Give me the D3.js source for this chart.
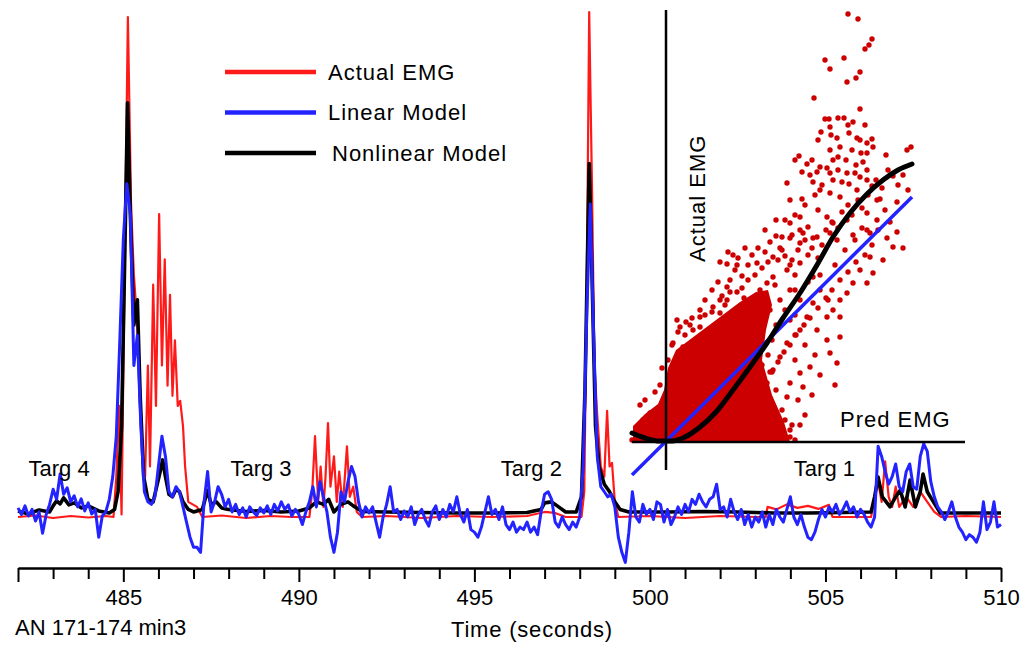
<!DOCTYPE html>
<html>
<head>
<meta charset="utf-8">
<script src="https://cdn.jsdelivr.net/npm/d3@7"></script>
<style>
  body { margin: 0; background: #fff; }
  text { font-family: "Liberation Sans", Arial, sans-serif; font-size: 22px; fill: #000; }
</style>
</head>
<body>
<script>
// ---- time series data ----
// linear model sampled every 0.1 s from 482 s
var linearStart = 482, linearStep = 0.1;
var linearModel = [
  1.8, 0.5, 2.2, 0.2, 1.5, -0.8, 1.0, -3.2, 0.4, 2.5,
  5.5, 3.5, 8.5, 4.5, 5.8, 3.0, 4.2, 2.0, 3.6, 1.2,
  2.8, 0.6, 1.5, -4.0, 0.2, 1.0, 3.5, 8.0, 16, 35,
  55, 66, 60, 30, 36, 18, 5, 3, 2.5, 4,
  10, 16, 12, 5, 4, 6, 5, 2, -1, -4,
  -6, -6, -7, 3, 9, 1, 3, 6, 4.5, 2,
  3.5, 1, 2.5, 0.5, 1.8, 0, 2, 1, 0.3, 1.8,
  0.8, 2.2, 0.5, 2.5, 1.2, 3, 1.5, 2.4, 0.2, 1.5,
  0.5, -1.5, 1, 3, 6, 2, 7, 4, 1, -4,
  -7, -3, 5, 3, 7, 10, 8, 3, 0, 2,
  0.8, 2, -1, -4, 0, 2.5, 6, 1, 1.5, -0.5,
  1.2, 0, 2, -1.5, 0.5, 1.5, -0.5, -1.8, 1, 2.2,
  -0.5, 1.5, 0, 2.5, 1, 4, 0.5, -1, 1.5, -2.5,
  -3, -4, -2, 1, 4, 0.5, 1.5, -0.5, 2, -1.5,
  -2.5, -1, -3, -2, -2.5, -1, -3, -2, -3.5, 1,
  4.5, 5, 3.5, -1, -2, 0, -1.5, -2.5, -1, -2,
  0, 10, 40, 62, 35, 12, 6, 5, 4, 4.5,
  2, -4, -7, -9, -3, 5, 0, -1, 2.5, 0.5,
  1.5, -0.5, 3, 2.5, -1, 1.5, -1.5, 0, 2, 0.5,
  2.5, 1, 3.5, 2.5, 4.5, 3, 2, 3.5, 4, 6.5,
  1.5, 2, 0, 3.5, 1, -0.5, 1.5, -1.5, 0.5, -2,
  0, -1, 1, -2, 0.5, -1.5, 1.5, 0, -1, 1.5,
  4, 0, -1.5, 0.5, -2, -4, -4.5, -3, -0.5, 1.5,
  0, 2, 1, 2.5, 0.5, 1.5, 3, 1, 2, 0,
  1.5, 0.5, -1, -2, 0, 14, 12, 9, 6.5, 8,
  10.5, 6, 5, 9, 10.5, 6, 5.5, 12, 14.5, 13,
  7, 4, 2, 1, -0.5, 1, 3, 0, -2, -3,
  -4.5, -3.5, -4, -5, -3, 3, -2.5, -1, 3, -2,
  -1.5
];

// [time, value]
var actualEmg = [
  [482.0,0],[482.5,0.3],[483.0,-0.2],[483.5,0.2],[484.0,-0.1],[484.5,0.2],[484.72,0],[484.8,8],[484.88,22],[484.95,0.5],
  [485.03,45],[485.13,99],[485.22,62],[485.3,48],[485.38,40],[485.45,30],[485.55,12],[485.62,8],[485.7,30],[485.76,10],
  [485.85,46],[485.93,22],[486.02,60],[486.1,30],[486.18,51],[486.26,26],[486.33,44],[486.4,24],[486.47,35],[486.55,22],
  [486.62,23],[486.7,18],[486.76,10],[486.85,3],[487.1,2],[487.25,0],[487.8,0.3],[488.5,-0.2],[489.2,0.2],[489.8,0],
  [490.3,0],[490.38,5],[490.46,16],[490.55,3],[490.62,10],[490.7,2],[490.76,8],[490.83,18.6],[490.9,6],[491.0,12],
  [491.08,3],[491.15,9],[491.25,2],[491.37,14],[491.45,4],[491.55,6],[491.65,1],[491.8,0],[492.5,0.2],[493.5,-0.2],
  [494.5,0.2],[495.5,0],[496.5,0.2],[497.0,1],[497.3,0.8],[497.6,0],[498.05,0],[498.13,5],[498.2,45],[498.27,100],
  [498.35,65],[498.42,30],[498.5,20],[498.6,10],[498.7,8],[498.78,21],[498.85,10],[498.92,10.7],[499.0,3],[499.1,0],
  [500.0,0.2],[501.0,-0.2],[502.0,0.2],[503.0,0],[503.3,0],[503.35,2],[503.6,1.5],[503.9,2.5],[504.2,1.8],[504.5,2.2],
  [504.8,1.6],[505.1,2.4],[505.2,0],[506.3,0],[506.4,4],[506.5,7],[506.6,3],[506.7,11],[506.8,4],[506.9,2],
  [507.0,6],[507.1,2],[507.3,4],[507.5,2],[507.7,5],[507.9,3],[508.1,1],[508.3,0],[509.0,0.2],[510.0,0]
];

var nonlinearModel = [
  [482.0,1.2],[482.3,0.6],[482.6,1.4],[482.9,1.0],[483.0,2.2],[483.1,3.2],[483.2,2.6],[483.3,3.8],[483.45,2.4],[483.6,2.8],
  [483.8,1.8],[484.0,2.2],[484.3,1.2],[484.6,0.8],[484.75,1.5],[484.85,5],[484.95,18],[485.05,55],[485.12,82],[485.2,60],
  [485.3,38],[485.4,43],[485.48,24],[485.58,8],[485.7,3.5],[485.85,3],[485.95,6],[486.05,9],[486.12,11.3],[486.2,8],
  [486.3,4.5],[486.4,4],[486.5,5.5],[486.6,5],[486.7,3],[486.85,1.5],[487.0,1],[487.25,1.5],[487.4,5.3],[487.5,2.5],
  [487.65,3],[487.8,1.8],[488.0,1.5],[488.5,1.1],[489.0,1.3],[489.5,1.0],[490.0,1.2],[490.3,1.8],[490.5,3],[490.7,2.5],
  [490.85,3.5],[491.0,1],[491.2,2.5],[491.4,3],[491.55,2.2],[491.8,1.1],[492.5,1.0],[493.5,0.9],[494.5,0.8],[495.5,0.8],
  [496.5,0.9],[496.9,1.5],[497.0,2.8],[497.2,3],[497.4,2],[497.6,1],[497.9,1],[498.05,4],[498.15,25],[498.27,70],
  [498.35,48],[498.45,18],[498.55,10],[498.7,6.5],[498.85,5],[499.0,3],[499.15,1.5],[499.4,1],[500.5,1],[501.5,1.1],
  [502.5,1],[503.5,0.8],[504.5,0.8],[505.5,0.9],[506.3,1],[506.4,4],[506.5,7.9],[506.62,4],[506.84,2],[507.0,4],
  [507.13,5.3],[507.27,2],[507.41,7.3],[507.56,2],[507.7,5],[507.78,8.5],[507.9,5],[508.04,3.4],[508.27,0.8],[510.0,0.8]
];

var timeTicks = d3.range(482, 511);
var labelledTicks = [485, 490, 495, 500, 505, 510];
var legendNames = ["Actual EMG", "Linear Model", "Nonlinear Model"];
var legendColors = ["#ff1a1a", "#2323ff", "#000000"];
var targNames = ["Targ 4", "Targ 3", "Targ 2", "Targ 1"];
var targTimes = [482.3, 488.05, 495.75, 504.1];

// ---- inset scatter: predicted vs actual EMG ----
var scatterPoints = [
  [72.8,171.2],[76.8,169.2],[82.4,161.2],[81.2,158.8],[79.6,157.2],[63.6,152.8],[71.2,153.6],[65.6,149.2],[77.6,148],[76,145.6],
  [72.4,144],[59.2,137.6],[77.6,133.2],[63.6,129.2],[65.2,129.2],[68.8,129.6],[71.2,129.6],[74.8,128],[72.8,126.8],[79.6,126.8],
  [65.6,126],[62,124],[66,122.8],[73.2,123.6],[82.4,121.2],[82.8,118],[76.4,121.6],[68.4,121.6],[69.6,118],[80.4,119.6],
  [80.4,115.6],[78,115.6],[88,114.8],[96.4,116.8],[98,118],[53.2,114.4],[51.6,112.8],[58.4,112.8],[56.4,111.2],[61.6,110],
  [64.4,109.6],[66.8,112.8],[68.8,114],[76,110.8],[78.8,112],[80.4,108.8],[54.4,108],[60.4,108],[65.6,107.6],[72.4,107.6],
  [75.6,107.6],[48.4,103.6],[58.8,104],[66.8,104.8],[70.4,104],[73.2,103.2],[77.6,106],[80.4,104.8],[94.8,106.8],[54.4,97.2],
  [61.6,100.8],[65.6,99.6],[69.6,98],[76.4,100.8],[84.4,96.8],[85.6,97.2],[92.4,96],[96.8,100.8],[47.6,88.8],[49.6,87.6],
  [53.6,90],[56.8,86],[60.8,92.8],[64.4,90],[66.8,87.6],[72.4,88.8],[80.4,91.6],[84.4,88.8],[46.4,82],[50.4,82.8],
  [54.8,83.6],[58.8,81.6],[65.6,83.6],[68.4,80.8],[74.8,82.8],[80.4,84.8],[92.4,84],[88.4,81.6],[90.8,78],[94.8,77.6],
  [26.8,74.8],[24.4,71.2],[28.4,70.8],[36.4,71.6],[42.8,74],[46.4,76.8],[53.6,79.6],[60.4,82],[81.6,83.6],[86.8,72.8],
  [81.6,74],[77.6,68.8],[82.8,67.6],[80.4,63.6],[74.8,63.6],[72.4,59.6],[69.6,56.8],[66.8,52.8],[64.4,50],[69.6,50],
  [69.6,42],[65.6,35.6],[68.4,31.6],[57.6,30],[53.6,27.6],[49.6,23.6],[54.8,22],[48.4,18],[49.6,4.8],[45.6,3.6],
  [42.8,2],[37.6,0.8],[24.4,62],[28.4,60],[24.4,56.8],[18.8,54],[21.6,51.6],[29.6,54],[33.6,55.6],[37.6,60.8],
  [40.4,63.6],[42.8,66],[48.4,68.8],[53.6,71.6],[58.8,66],[61.6,60.8],[58.8,55.6],[56.4,50],[53.6,44.8],[60.4,44.8],
  [64.4,40.8],[48.4,39.6],[45.6,34],[42.8,28.8],[40.4,23.6],[37.6,18],[34.8,12.8],[32.4,8.8],[13.6,50],[10.8,44.8],
  [5.6,46],[4.4,48.8],[2.8,39.6],[6.8,38],[-6.4,11.6],[-9.2,8.8],[-10.4,14.8],[-8.4,16.8],[-4.4,20],[-2.4,22.8],
  [-1.6,29.6],[0.8,32.8],[2.4,38.8],[7.6,42.8],[9.6,46.8],[13.6,46],[15.6,50.8],[18.4,52],[21.6,56.8],[23.6,54.8],
  [25.6,60],[30.4,61.6],[32.8,64.8],[35.6,66.8],[38.4,69.6],[40.8,72],[44.8,72.8],[49.6,70.8],[51.6,66.8],[49.6,60.8],
  [45.6,56.8],[47.6,52.8],[44,46.8],[49.6,48.8],[51.6,42.8],[42.4,40.8],[40.8,34.8],[38.4,30.8],[41.6,28],[37.6,24.8],
  [44,20.8],[39.6,18.8],[41.6,14.8],[46.4,12.8],[47.6,8.8],[50.4,6.8],[49.6,2],[51.6,0.8],[45.6,0.8],[-12,2.8],
  [-13.6,0.8],[55.6,38.8],[59.6,34.8],[51.6,32.8],[61.6,26.8],[58.4,18.8],[52.8,16.8],[67.6,22.8],[64.8,56.8],[53.6,56.8],
  [51.6,50.8],[55.6,10.8],[53.6,6.8],[37.6,44.8],[35.6,36.8],[38.4,38.8],[34.4,28],[36.8,21.6],[40.8,17.6],[43.2,10.8],
  [37.6,6.8],[41.6,3.6],[34.4,56.8],[31.2,57.6],
  [15.6,56.8],[18.4,60.8],[20.8,64],[22.4,58.4],[25.6,64.8],[27.6,68.8],[30.4,66.4],[32.8,70.8],[34.4,74.8],[36.8,77.6],
  [31.6,77.6],[28.8,73.6],[39.6,76],[41.6,80],[44,82.4],[45.6,77.6],[47.6,74.4],[50.4,72.8],[52.8,76.8],[55.6,80.8],
  [56.8,74.8],[58.4,77.6],[60.8,73.6],[62.4,78.8],[64,84.8],[66.4,88],[68.8,85.6],[70.4,92],[72.8,94.8],[74.4,90.8],
  [76.8,96.8],[78.4,93.6],[80.8,98.8],[82.4,102.4],[84,104.8],[86.4,101.6],[88.8,108.8],[90.8,106.4],[92.8,102.8],[87.6,92.8],
  [89.6,88],[84.8,84.8],[82.4,78.8],[79.6,74.8],[76,72],[72.8,68],[69.6,64.8],[66.4,60.8],[64,57.6],[60.8,53.6],
  [57.6,49.6],[55.2,46.8],[52,42.8],[49.6,38.8],[47.2,36],[44.8,32],[42.4,28],[39.6,56.8],[41.6,52.8],[43.6,62.8],
  [51.6,60.8],[56.8,64],[61.6,66.8],[67.6,70.8],[71.6,76.8],[75.6,80.8],[78.4,85.6],[13.6,52.8],[10.4,49.6],[8,48],
  [4.8,44],[21.6,72],[24.8,76],[49.6,96.8],[51.6,90.8],[55.6,94.8],[59.6,98.8],[62.4,102.8],[57.6,106.8],[68.8,108.8],
  [72,112.8],[74.4,116.8],[77.6,120.8],[65.6,116.8],[60.8,120.8],[53.6,84.8],[49.6,81.6],[44,88.8],[39.6,84.8]
];

// outline of the saturated core where the dots merge
var scatterCore = [
  [-13.2,0],[-13.2,6.4],[-8.4,11.2],[-3.2,15.2],[-0.8,20.8],[0.8,29.6],[4,36.8],[10.4,41.6],[16.8,46.4],[23.2,51.2],
  [29.6,56],[36,60],[40.8,60.8],[42.4,54.8],[40,44.8],[38.4,32.8],[42.4,18.8],[47.2,8],[49.6,0]
];

var linearFit = [[-13.6,-13.2],[98.4,98]];
var nonlinearFit = [
  [-13.6,3.6],[-8.4,1.6],[-2.4,0.4],[2.4,0.4],[7.6,2],[13.6,6],[20,12],[26.8,20.8],[33.6,30],[40.4,39.6],
  [46.8,49.6],[53.6,59.6],[60.4,70.8],[66.8,82],[73.6,91.6],[80.4,99.2],[86.8,104.8],[92.8,108.8],[98.4,111.2]
];

// ---- chart ----
var width = 1029, height = 648;

var svg = d3.select("body").append("svg")
    .attr("width", width)
    .attr("height", height);

var x = d3.scaleLinear().domain([482, 510]).range([18, 1001]);
var y = d3.scaleLinear().domain([0, 100]).range([517, 12]);

var line = d3.line()
    .x(function(d) { return x(d[0]); })
    .y(function(d) { return y(d[1]); });

var linearSeries = linearModel.map(function(v, i) { return [linearStart + i * linearStep, v]; });

svg.append("path").datum(actualEmg)
    .attr("fill", "none").attr("stroke", legendColors[0]).attr("stroke-width", 2.2)
    .attr("stroke-linejoin", "round").attr("d", line);
svg.append("path").datum(nonlinearModel)
    .attr("fill", "none").attr("stroke", legendColors[2]).attr("stroke-width", 3.6)
    .attr("stroke-linejoin", "round").attr("d", line);
svg.append("path").datum(linearSeries)
    .attr("fill", "none").attr("stroke", legendColors[1]).attr("stroke-width", 3)
    .attr("stroke-linejoin", "round").attr("d", line);

// time axis
var axis = svg.append("g")
    .attr("transform", "translate(0,568)")
    .call(d3.axisBottom(x)
        .tickValues(timeTicks)
        .tickSize(11)
        .tickSizeOuter(0)
        .tickPadding(10)
        .tickFormat(function(d) { return labelledTicks.indexOf(d) >= 0 ? d : ""; }));
axis.select(".domain").attr("stroke-width", 2.5);
axis.selectAll(".tick line").attr("stroke-width", 2)
    .attr("y2", function(d) { return (d % 5 === 0 || d === 482) ? 14 : 11; });
axis.selectAll(".tick text").attr("font-size", 22).attr("font-family", null);

svg.append("text").attr("x", 15).attr("y", 635).text("AN 171-174 min3");
svg.append("text").attr("x", 532).attr("y", 637).attr("text-anchor", "middle")
    .attr("letter-spacing", 0.8).text("Time (seconds)");

// target labels
svg.selectAll(".targ").data(targNames).enter().append("text")
    .attr("class", "targ")
    .attr("x", function(d, i) { return x(targTimes[i]); })
    .attr("y", 476)
    .text(function(d) { return d; });

// legend
var legend = svg.selectAll(".legend").data(legendNames).enter().append("g")
    .attr("class", "legend")
    .attr("transform", function(d, i) { return "translate(225," + (72 + i * 40.5) + ")"; });
legend.append("line").attr("x1", 0).attr("x2", 91)
    .attr("stroke", function(d, i) { return legendColors[i]; })
    .attr("stroke-width", 4.5);
legend.append("text")
    .attr("x", function(d, i) { return i === 2 ? 107 : 103; })
    .attr("y", 7.5)
    .attr("letter-spacing", 1)
    .text(function(d) { return d; });

// inset scatter
var sx = d3.scaleLinear().domain([0, 100]).range([666, 916]);
var sy = d3.scaleLinear().domain([0, 100]).range([442, 192]);

var fitLine = d3.line()
    .x(function(d) { return sx(d[0]); })
    .y(function(d) { return sy(d[1]); });

svg.append("path").datum(scatterCore)
    .attr("fill", "#cc0000")
    .attr("d", d3.line().curve(d3.curveLinearClosed)
        .x(function(d) { return sx(d[0]); })
        .y(function(d) { return sy(d[1]); }));

svg.selectAll(".dot").data(scatterPoints).enter().append("circle")
    .attr("class", "dot")
    .attr("cx", function(d) { return sx(d[0]); })
    .attr("cy", function(d) { return sy(d[1]); })
    .attr("r", 2.7)
    .attr("fill", "#cc0000");

svg.append("line")
    .attr("x1", sx(0)).attr("x2", sx(0))
    .attr("y1", sy(172.8)).attr("y2", sy(-11.2))
    .attr("stroke", "#000").attr("stroke-width", 2.5);
svg.append("line")
    .attr("x1", sx(-13.6)).attr("x2", sx(119.6))
    .attr("y1", sy(0)).attr("y2", sy(0))
    .attr("stroke", "#000").attr("stroke-width", 2.5);

svg.append("path").datum(linearFit)
    .attr("fill", "none").attr("stroke", legendColors[1]).attr("stroke-width", 3.5)
    .attr("d", fitLine);
svg.append("path").datum(nonlinearFit)
    .attr("fill", "none").attr("stroke", "#000").attr("stroke-width", 5)
    .attr("stroke-linecap", "round")
    .attr("d", fitLine.curve(d3.curveMonotoneX));

svg.append("text").attr("x", 840).attr("y", 427).attr("letter-spacing", 1).text("Pred EMG");
svg.append("text")
    .attr("transform", "translate(705,262) rotate(-90)")
    .attr("letter-spacing", 1)
    .text("Actual EMG");
</script>
</body>
</html>
